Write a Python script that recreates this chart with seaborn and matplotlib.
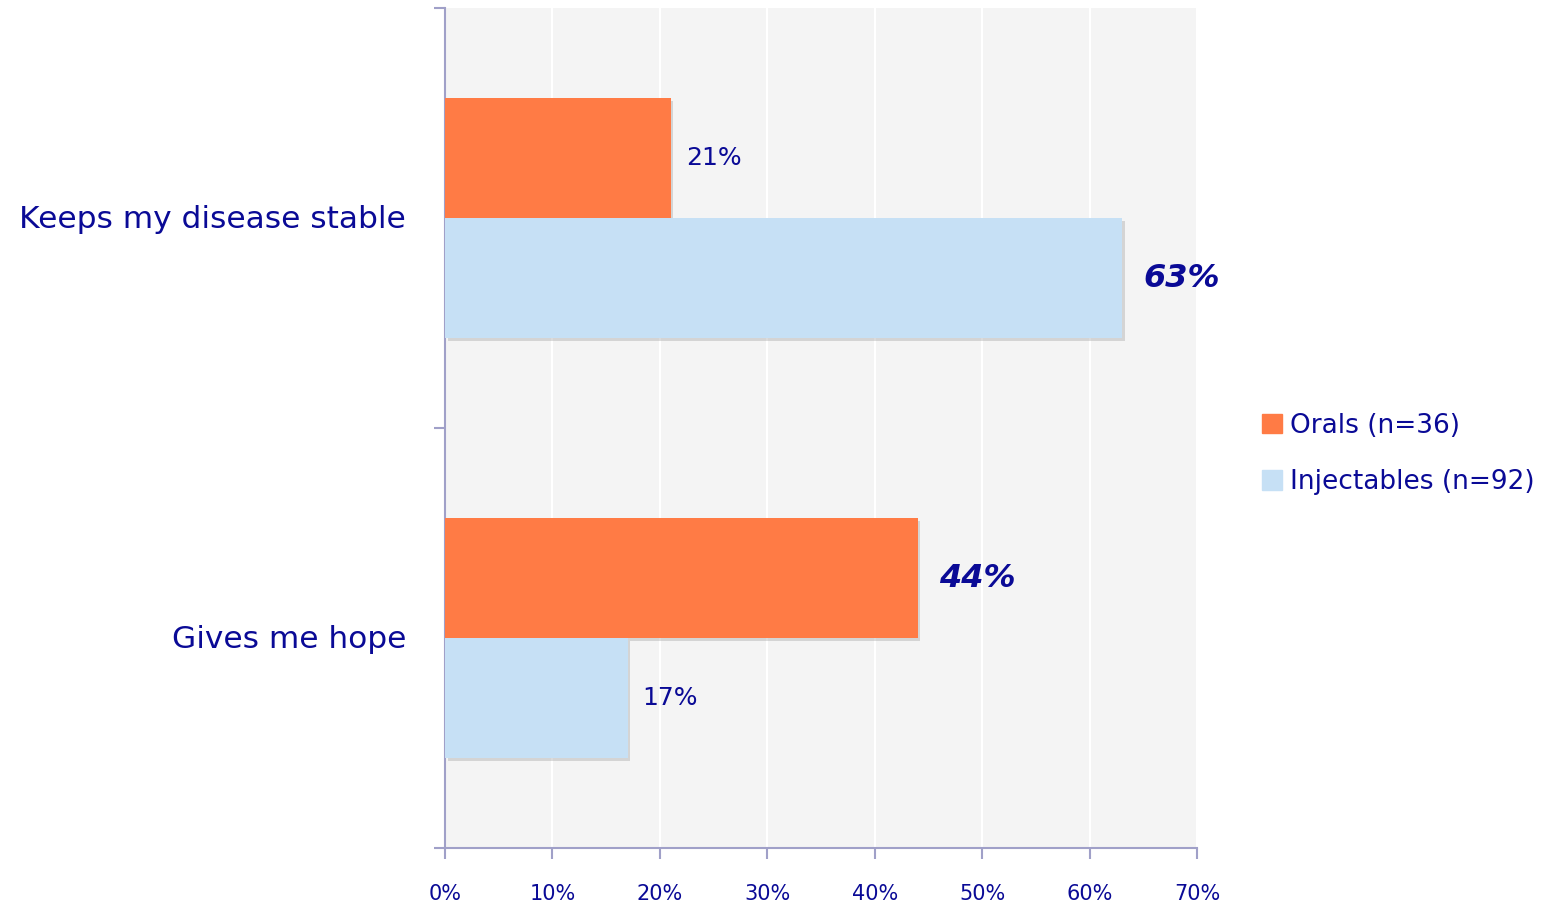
import matplotlib
matplotlib.use("Agg")
import matplotlib.pyplot as plt
import matplotlib.patheffects as pe
import seaborn as sns
import pandas as pd

categories = ["Keeps my disease stable", "Gives me hope"]
groups = ["Orals (n=36)", "Injectables (n=92)"]
orals = [21, 44]
injectables = [63, 17]
x_ticks = [0, 10, 20, 30, 40, 50, 60, 70]

NAVY = "#0a0a96"
AXIS = "#a0a0c8"
colors = ["#ff7b45", "#c6e0f5"]

df = pd.DataFrame({
    "category": categories * 2,
    "group": [groups[0]] * 2 + [groups[1]] * 2,
    "value": orals + injectables,
})

sns.set_style("white")
plt.rcParams["font.family"] = ["DejaVu Sans"]

fig = plt.figure(figsize=(15.56, 9.08), dpi=100)
ax = fig.add_axes([445 / 1556, 1 - 848 / 908, (1197 - 445) / 1556, (848 - 8) / 908])
ax.set_facecolor("#f4f4f4")

sns.barplot(data=df, y="category", x="value", hue="group", order=categories,
            hue_order=groups, palette=colors, width=240 / 420, orient="h",
            saturation=1, ax=ax, legend=False, edgecolor="none")

shadow = [pe.SimplePatchShadow(offset=(2, -2), shadow_rgbFace="#999999", alpha=0.35), pe.Normal()]
for p in ax.patches:
    p.set_path_effects(shadow)
    p.set_zorder(3)

ax.set_xlim(0, 70)
ax.set_ylim(1.5, -0.5)
ax.set_xticks(x_ticks)
ax.set_xticklabels([f"{t}%" for t in x_ticks], color=NAVY, fontsize=15)
ax.set_yticks([-0.5, 0.5, 1.5])
ax.set_yticklabels([])
for i, c in enumerate(categories):
    ax.text(-0.052, 1 - (i + 0.5) / 2 - 0.002, c, transform=ax.transAxes, ha="right",
            va="center", color=NAVY, fontsize=22.5)

ax.grid(axis="x", color="white", linewidth=1.5, zorder=0)
ax.set_axisbelow(True)
for s in ["top", "right"]:
    ax.spines[s].set_visible(False)
for s in ["left", "bottom"]:
    ax.spines[s].set_color(AXIS)
    ax.spines[s].set_linewidth(1.5)
ax.tick_params(axis="both", colors=AXIS, length=8, width=1.5, labelcolor=NAVY,
               bottom=True, left=True)
ax.tick_params(axis="x", pad=18)
ax.set_xlabel("")
ax.set_ylabel("")

# value labels: the larger value in each category is emphasised
bars_o = ax.patches[:2]
bars_i = ax.patches[2:4]
for i in range(len(categories)):
    vals = [orals[i], injectables[i]]
    big = max(vals)
    for bar, v in zip([bars_o[i], bars_i[i]], vals):
        y = bar.get_y() + bar.get_height() / 2
        if v == big:
            ax.text(v + 2.0, y, f"{v}%", va="center", ha="left", color=NAVY,
                    fontsize=23, fontstyle="italic", fontweight="bold")
        else:
            ax.text(v + 1.4, y, f"{v}%", va="center", ha="left", color=NAVY,
                    fontsize=18)

handles = [plt.Rectangle((0, 0), 1, 1, color=c) for c in colors]
leg = fig.legend(handles, groups, loc="center left", bbox_to_anchor=(1238 / 1556, 1 - 454 / 908),
                 frameon=False, fontsize=19, handlelength=0.76, handleheight=0.76,
                 handletextpad=0.3, labelspacing=1.15)
for t in leg.get_texts():
    t.set_color(NAVY)

fig.savefig("out.png", dpi=100)
